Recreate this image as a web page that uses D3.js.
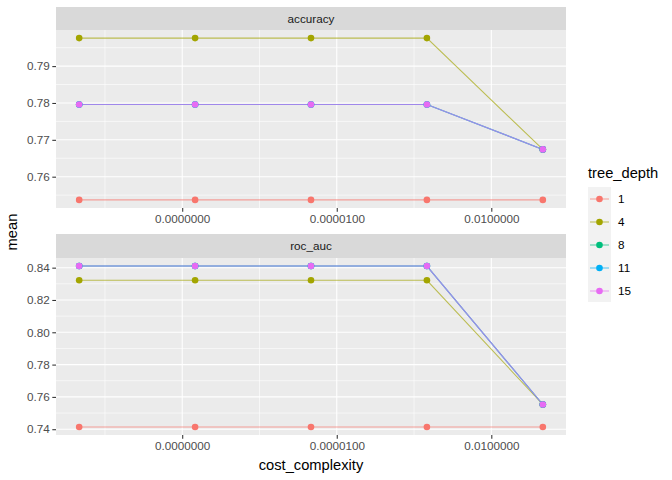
<!DOCTYPE html>
<html><head><meta charset="utf-8">
<script src="https://cdn.jsdelivr.net/npm/d3@7"></script>
<style>body{margin:0;background:#fff;} text{font-family:"Liberation Sans",Arial,sans-serif;}</style>
</head><body>
<svg id="chart" width="672" height="480"></svg>
<script>
// ---- data ----
const costComplexity = [1e-10, 1.778e-8, 3.162e-6, 5.623e-4, 0.1];
const treeDepths = ["1", "4", "8", "11", "15"];
const depthColors = ["#F8766D", "#A3A500", "#00BF7D", "#00B0F6", "#E76BF3"];
const metrics = ["accuracy", "roc_auc"];
const accuracyValues = [
  [0.7537, 0.7537, 0.7537, 0.7537, 0.7537],
  [0.7976, 0.7976, 0.7976, 0.7976, 0.7674],
  [0.7796, 0.7796, 0.7796, 0.7796, 0.7674],
  [0.7796, 0.7796, 0.7796, 0.7796, 0.7674],
  [0.7796, 0.7796, 0.7796, 0.7796, 0.7674]
];
const rocAucValues = [
  [0.7414, 0.7414, 0.7414, 0.7414, 0.7414],
  [0.8322, 0.8322, 0.8322, 0.8322, 0.7553],
  [0.8410, 0.8410, 0.8410, 0.8410, 0.7553],
  [0.8410, 0.8410, 0.8410, 0.8410, 0.7553],
  [0.8410, 0.8410, 0.8410, 0.8410, 0.7553]
];
const xTicks = [1e-8, 1e-5, 1e-2];
const xMinor = [Math.pow(10, -9.5), Math.pow(10, -6.5), Math.pow(10, -3.5), Math.pow(10, -0.5)];
const accuracyTicks = [0.76, 0.77, 0.78, 0.79];
const rocAucTicks = [0.74, 0.76, 0.78, 0.80, 0.82, 0.84];

// ---- layout ----
const svg = d3.select("#chart");
const panelLeft = 56, panelRight = 566;
const lineAlpha = 0.65;
const panels = [
  {name: metrics[0], values: accuracyValues, ticks: accuracyTicks, stripTop: 7, top: 30, bottom: 208, fmt: d3.format(".2f")},
  {name: metrics[1], values: rocAucValues, ticks: rocAucTicks, stripTop: 234, top: 258, bottom: 435, fmt: d3.format(".2f")}
];

const logExt = d3.extent(costComplexity.map(Math.log10));
const lpad = (logExt[1] - logExt[0]) * 0.05;
const x = d3.scaleLog().domain([Math.pow(10, logExt[0] - lpad), Math.pow(10, logExt[1] + lpad)]).range([panelLeft, panelRight]);

panels.forEach(p => {
  const all = p.values.flat();
  const ext = d3.extent(all);
  const pad = (ext[1] - ext[0]) * 0.05;
  const y = d3.scaleLinear().domain([ext[0] - pad, ext[1] + pad]).range([p.bottom, p.top]);
  const g = svg.append("g");
  // strip
  g.append("rect").attr("x", panelLeft).attr("y", p.stripTop).attr("width", panelRight - panelLeft).attr("height", p.top - p.stripTop).attr("fill", "#D9D9D9");
  g.append("text").attr("x", (panelLeft + panelRight) / 2).attr("y", (p.stripTop + p.top) / 2 + 4).attr("text-anchor", "middle").attr("font-size", 11.7).attr("fill", "#1A1A1A").text(p.name);
  // panel bg
  g.append("rect").attr("x", panelLeft).attr("y", p.top).attr("width", panelRight - panelLeft).attr("height", p.bottom - p.top).attr("fill", "#EBEBEB");
  // minor grid y
  const step = p.ticks[1] - p.ticks[0];
  const yMinor = [];
  for (let v = p.ticks[0] - step / 2; v <= ext[1] + pad; v += step) yMinor.push(v);
  const yd = y.domain();
  yMinor.filter(v => v >= yd[0] && v <= yd[1]).forEach(v => {
    g.append("line").attr("x1", panelLeft).attr("x2", panelRight).attr("y1", y(v)).attr("y2", y(v)).attr("stroke", "#fff").attr("stroke-width", 0.6);
  });
  xMinor.filter(v => x(v) >= panelLeft && x(v) <= panelRight).forEach(v => {
    g.append("line").attr("x1", x(v)).attr("x2", x(v)).attr("y1", p.top).attr("y2", p.bottom).attr("stroke", "#fff").attr("stroke-width", 0.6);
  });
  p.ticks.forEach(v => {
    g.append("line").attr("x1", panelLeft).attr("x2", panelRight).attr("y1", y(v)).attr("y2", y(v)).attr("stroke", "#fff").attr("stroke-width", 1.07);
  });
  xTicks.forEach(v => {
    g.append("line").attr("x1", x(v)).attr("x2", x(v)).attr("y1", p.top).attr("y2", p.bottom).attr("stroke", "#fff").attr("stroke-width", 1.07);
  });
  // axes
  const yAxis = d3.axisLeft(y).tickValues(p.ticks).tickFormat(p.fmt).tickSize(3.7).tickPadding(2.5);
  const ya = g.append("g").attr("transform", `translate(${panelLeft},0)`).call(yAxis);
  const xAxis = d3.axisBottom(x).tickValues(xTicks).tickFormat(d3.format(".7f")).tickSize(3.7).tickPadding(2.5);
  const xa = g.append("g").attr("transform", `translate(0,${p.bottom})`).call(xAxis);
  [ya, xa].forEach(a => {
    a.select(".domain").remove();
    a.selectAll(".tick line").attr("stroke", "#333333").attr("stroke-width", 1.07);
    a.selectAll(".tick text").attr("fill", "#4D4D4D").attr("font-size", 11.7).style("font-family", "'Liberation Sans',Arial,sans-serif");
  });
  // lines
  const line = d3.line().x((d, i) => x(costComplexity[i])).y(d => y(d));
  p.values.forEach((vals, k) => {
    g.append("path").attr("d", line(vals)).attr("fill", "none").attr("stroke", depthColors[k]).attr("stroke-width", 1.07).attr("stroke-opacity", lineAlpha);
  });
  p.values.forEach((vals, k) => {
    g.selectAll(null).data(vals).enter().append("circle")
      .attr("cx", (d, i) => x(costComplexity[i])).attr("cy", d => y(d)).attr("r", 3.3).attr("fill", depthColors[k]);
  });
});

// axis titles
svg.append("text").attr("x", (panelLeft + panelRight) / 2).attr("y", 470).attr("text-anchor", "middle").attr("font-size", 14.7).attr("fill", "#000").text("cost_complexity");
svg.append("text").attr("transform", "translate(17,232) rotate(-90)").attr("text-anchor", "middle").attr("font-size", 14.7).attr("fill", "#000").text("mean");

// legend
const lg = svg.append("g");
lg.append("text").attr("x", 588).attr("y", 178).attr("font-size", 14.7).attr("fill", "#000").text("tree_depth");
lg.append("rect").attr("x", 588).attr("y", 187).attr("width", 23).attr("height", 115).attr("fill", "#F2F2F2");
treeDepths.forEach((d, i) => {
  const cy = 199 + i * 23;
  lg.append("line").attr("x1", 590).attr("x2", 609).attr("y1", cy).attr("y2", cy).attr("stroke", depthColors[i]).attr("stroke-width", 1.07).attr("stroke-opacity", lineAlpha);
  lg.append("circle").attr("cx", 599.5).attr("cy", cy).attr("r", 3.3).attr("fill", depthColors[i]);
  lg.append("text").attr("x", 618).attr("y", cy + 4).attr("font-size", 11.7).attr("fill", "#000").text(d);
});
</script>
</body></html>
